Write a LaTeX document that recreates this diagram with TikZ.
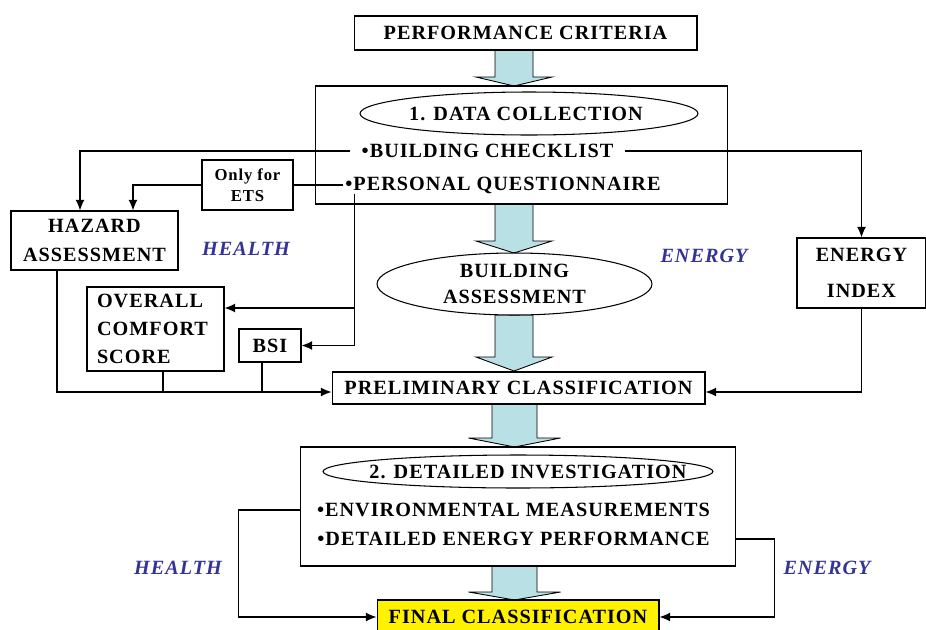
\documentclass[tikz,border=0pt]{standalone}
\usepackage{fontspec}
\setmainfont{Liberation Serif}[LetterSpace=5]
\usetikzlibrary{arrows.meta,shapes.geometric}

\definecolor{arrowfill}{RGB}{185,224,228}
\definecolor{labelblue}{RGB}{51,51,153}

% block arrow: centre x, top y, head y, tip y, half shaft, half head
\newcommand{\fatarrow}[6]{%
  \filldraw[fill=arrowfill,draw=black,line width=0.5pt]
    (#1-#5,#2) -- (#1+#5,#2) -- (#1+#5,#3) -- (#1+#6,#3) -- (#1,#4)
    -- (#1-#6,#3) -- (#1-#5,#3) -- cycle;}

\begin{document}
\begin{tikzpicture}[x=0.02cm,y=-0.02cm,
  font=\fontsize{11.5}{13.5}\selectfont\bfseries,
  box/.style={draw,fill=white,line width=0.6pt,inner sep=0pt,align=center},
  oval/.style={ellipse,draw,fill=white,line width=0.6pt,inner sep=0pt,align=center},
  item/.style={inner sep=0pt},
  arr/.style={-{Latex[length=6pt,width=5pt]},line width=0.6pt},
  line/.style={line width=0.6pt},
  tag/.style={text=labelblue,font=\fontsize{11.5}{13.5}\selectfont\bfseries\itshape}]
\useasboundingbox (0,0) rectangle (926,629);

% flow arrows down the middle
\fatarrow{514}{50}{77}{86}{19}{38}
\fatarrow{514}{204}{241}{253}{19}{38}
\fatarrow{514}{315}{357}{371}{19}{38}
\fatarrow{514.5}{404}{438}{447}{22.5}{46}
\fatarrow{514.5}{566}{592}{600}{22.5}{46}

% stage 1
\node[box,minimum width=6.86cm,minimum height=0.68cm] (perf) at (525.5,33) {PERFORMANCE CRITERIA};
\node[box,minimum width=8.26cm,minimum height=2.36cm] (collect) at (521.5,145) {};
\node[oval,minimum width=6.76cm,minimum height=0.86cm,
  label={[xshift=-0.06cm]center:1. DATA COLLECTION}] (stage1) at (529,113.5) {};
\node[item,inner xsep=0.22cm] (checklist) at (487.5,151) {•BUILDING CHECKLIST};
\node[item,inner xsep=1pt] (quest) at (503,185) {•PERSONAL QUESTIONNAIRE};
\node[box,font=\fontsize{9.5}{11}\selectfont\bfseries,minimum width=1.82cm,minimum height=1cm] (ets) at (247.5,185) {Only for\\[1pt]ETS};

% health branch
\node[box,minimum width=3.34cm,minimum height=1.18cm] (hazard) at (94.5,240.5) {HAZARD\\[3pt]ASSESSMENT};
\node[tag] (health1) at (246,249) {HEALTH};
\node[box,align=left,inner xsep=0.2cm,text width=2.34cm,minimum height=1.68cm] (ocs) at (155.5,329) {OVERALL\\[2.5pt]COMFORT\\[2.5pt]SCORE};
\node[box,minimum width=1.24cm,minimum height=0.66cm] (bsi) at (270,345.5) {BSI};

% building and energy
\node[oval,minimum width=5.5cm,minimum height=1.24cm] (build) at (514.5,284) {BUILDING\\[1pt]ASSESSMENT};
\node[tag] (energy1) at (704,256) {ENERGY};
\node[box,minimum width=2.58cm,minimum height=1.4cm] (energy) at (861.5,273) {ENERGY\\[7pt]INDEX};
\node[box,minimum width=7.46cm,minimum height=0.64cm] (prelim) at (518.5,388) {PRELIMINARY CLASSIFICATION};

% stage 2
\node[box,minimum width=8.72cm,minimum height=2.38cm] (detail) at (518,506.5) {};
\node[oval,minimum width=7.8cm,minimum height=0.66cm,
  label={[xshift=0.2cm]center:2. DETAILED INVESTIGATION}] (stage2) at (518,471.5) {};
\node[item] (env) at (513.5,510) {•ENVIRONMENTAL MEASUREMENTS};
\node[item] (deteng) at (513.5,539) {•DETAILED ENERGY PERFORMANCE};
\node[box,fill=yellow,minimum width=5.64cm,minimum height=0.68cm] (final) at (518,617) {FINAL CLASSIFICATION};
\node[tag] (health2) at (178,568) {HEALTH};
\node[tag] (energy2) at (827,568) {ENERGY};

% connectors
\draw[arr] (checklist.west) -| ([xshift=-0.29cm]hazard.north);
\draw[arr] (checklist.east) -| (energy.north);
\draw[line] (quest.west) -- (ets.east);
\draw[arr] (ets.west) -| ([xshift=0.77cm]hazard.north);
\coordinate (qdrop) at ([xshift=0.22cm]quest.south west);
\draw[arr] (qdrop) |- ([yshift=0.42cm]ocs.east);
\draw[arr] (qdrop) |- (bsi.east);
\coordinate (merge) at ([yshift=-0.08cm]prelim.west);
\draw[arr] ([xshift=-0.75cm]hazard.south) |- (merge);
\draw[line] ([xshift=0.15cm]ocs.south) -- ([xshift=0.15cm]ocs.south |- merge);
\draw[line] ([xshift=-0.16cm]bsi.south) -- ([xshift=-0.16cm]bsi.south |- merge);
\draw[arr] (energy.south) |- ([yshift=-0.08cm]prelim.east);
\draw[arr] (detail.west |- env) -- ++(-1.22cm,0) |- (final.west);
\draw[arr] (detail.east |- deteng) -- ++(0.76cm,0) |- (final.east);
\end{tikzpicture}
\end{document}
